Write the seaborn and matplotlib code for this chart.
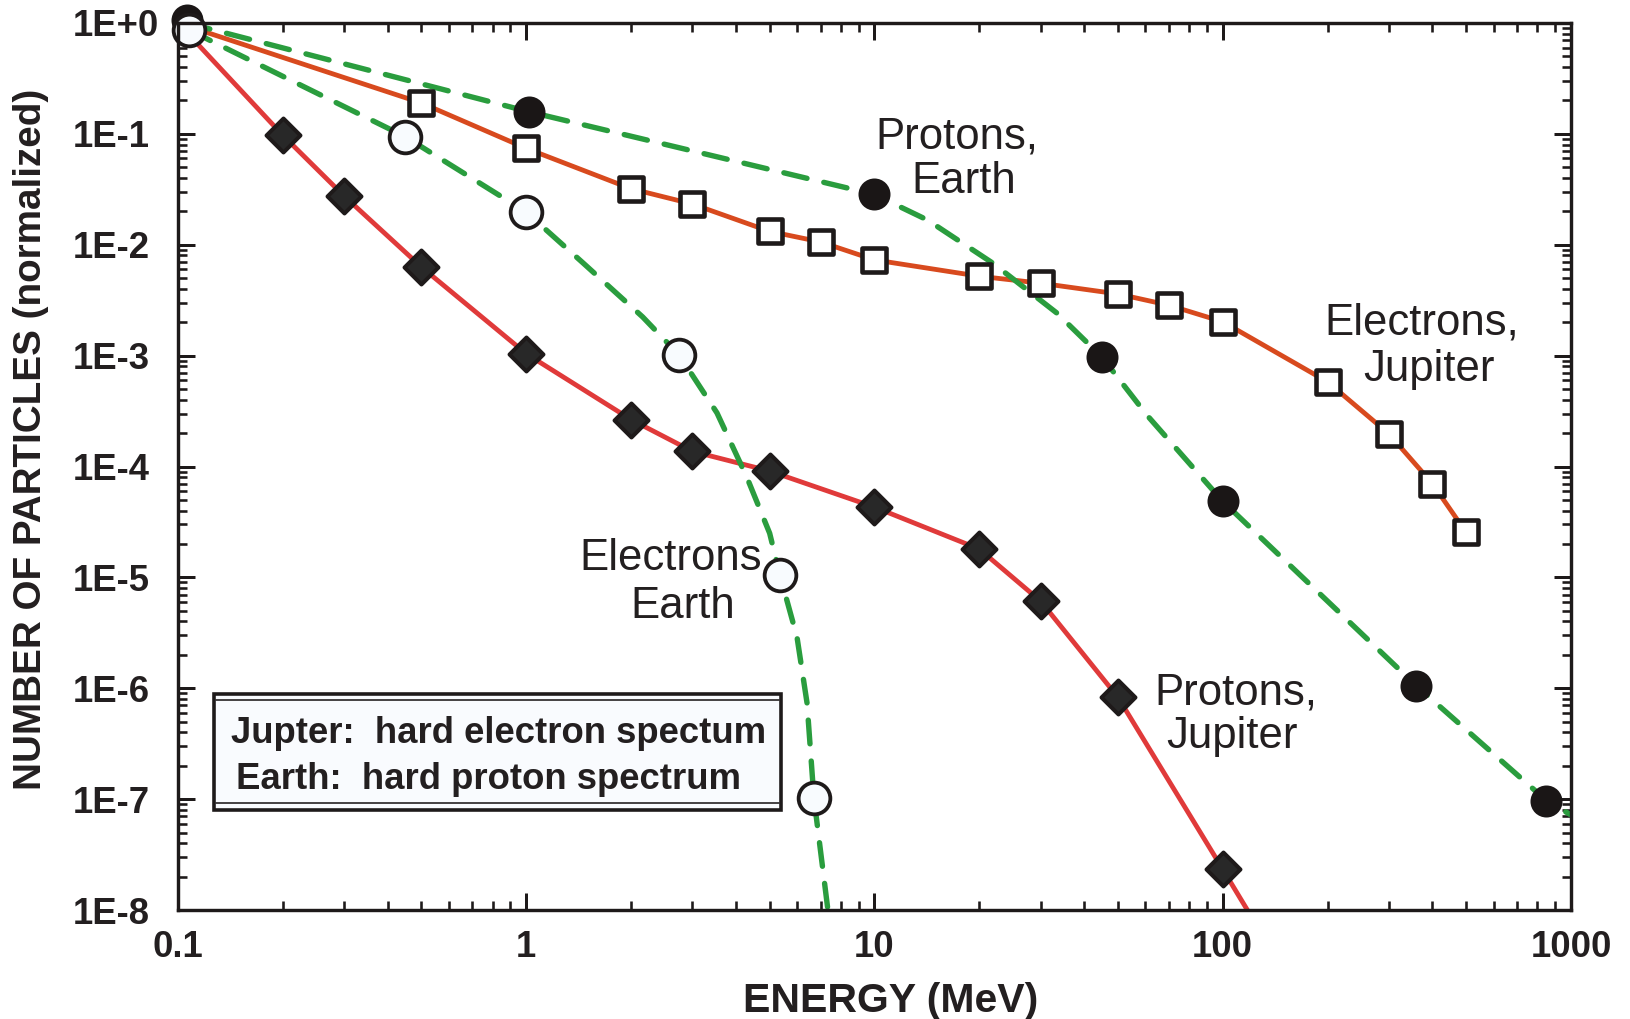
import matplotlib
matplotlib.use("Agg")
import matplotlib.pyplot as plt
import numpy as np
import pandas as pd
import seaborn as sns
from matplotlib.ticker import LogLocator, NullFormatter
from matplotlib.patches import Rectangle
from matplotlib.lines import Line2D

# ---------------- data ----------------
x_tick_values = [0.1, 1, 10, 100, 1000]
x_tick_labels = ["0.1", "1", "10", "100", "1000"]
y_tick_values = [1e0, 1e-1, 1e-2, 1e-3, 1e-4, 1e-5, 1e-6, 1e-7, 1e-8]
y_tick_labels = ["1E+0", "1E-1", "1E-2", "1E-3", "1E-4", "1E-5", "1E-6", "1E-7", "1E-8"]

# Protons, Jupiter (filled diamonds, red solid line)
pj_energy = [0.2, 0.3, 0.5, 1, 2, 3, 5, 10, 20, 30, 50, 100]
pj_flux = [9.7e-2, 2.75e-2, 6.3e-3, 1.04e-3, 2.65e-4, 1.37e-4, 9.1e-5, 4.3e-5, 1.8e-5, 6.1e-6, 8.3e-7, 2.33e-8]
pj_line_energy = [0.1, 0.2, 0.3, 0.5, 1, 2, 3, 5, 10, 20, 30, 50, 100, 125]
pj_line_flux = [1.0, 9.7e-2, 2.75e-2, 6.3e-3, 1.04e-3, 2.65e-4, 1.37e-4, 9.1e-5, 4.3e-5, 1.8e-5, 6.1e-6, 8.3e-7, 2.33e-8, 7.3e-9]

# Electrons, Jupiter (open squares, orange solid line)
ej_energy = [0.5, 1, 2, 3, 5, 7, 10, 20, 30, 50, 70, 100, 200, 300, 400, 500]
ej_flux = [0.19, 7.4e-2, 3.2e-2, 2.33e-2, 1.32e-2, 1.06e-2, 7.3e-3, 5.2e-3, 4.5e-3, 3.6e-3, 2.85e-3, 2.02e-3, 5.8e-4, 1.97e-4, 7.0e-5, 2.54e-5]
ej_line_energy = [0.1] + ej_energy
ej_line_flux = [1.0] + ej_flux

# Protons, Earth (filled circles, green dashed line)
pe_energy = [0.106, 1.02, 10, 45, 100, 360, 850]
pe_flux = [1.06, 0.158, 2.84e-2, 9.7e-4, 4.85e-5, 1.05e-6, 9.7e-8]
pe_line_energy = [0.106, 1.02, 10, 14.2, 21.9, 33.4, 45, 60.6, 100, 360, 850, 1000]
pe_line_flux = [1.0, 0.158, 2.84e-2, 1.67e-2, 6.8e-3, 2.42e-3, 9.7e-4, 2.9e-4, 4.85e-5, 1.05e-6, 9.7e-8, 7.2e-8]

# Electrons, Earth (open circles, green dashed line)
ee_energy = [0.1075, 0.45, 1.0, 2.75, 5.35, 6.7]
ee_flux = [0.865, 9.4e-2, 1.97e-2, 1.01e-3, 1.05e-5, 1.02e-7]
ee_line_energy = [0.1075, 0.45, 1.0, 1.456, 2.16, 2.75, 3.53, 4.3, 5.0, 5.35, 5.99, 6.4, 6.7, 7.5]
ee_line_flux = [0.865, 9.4e-2, 1.97e-2, 6.85e-3, 2.23e-3, 1.01e-3, 3.04e-4, 8.0e-5, 2.5e-5, 1.05e-5, 2.9e-6, 7.4e-7, 1.02e-7, 6e-9]

legend_lines = ["Jupter:  hard electron spectum", "Earth:  hard proton spectrum"]

# ---------------- style ----------------
sns.set_style("ticks")
plt.rcParams["font.family"] = ["Liberation Sans", "DejaVu Sans"]
plt.rcParams["mathtext.default"] = "regular"

W, H = 1631, 1019
DPI = 100
fig = plt.figure(figsize=(W / DPI, H / DPI), dpi=DPI)
fig.patch.set_facecolor("white")


def fx(px):
    return px / W


def fy(py):
    return 1 - py / H


def pt(px):
    return px * 72.0 / DPI


INK = "#1e1a1a"
TXT = "#231f20"
RED = "#e03a3a"
ORANGE = "#d84a1e"
GREEN = "#2a9d3e"

L, R, T, B = 178, 1571, 23, 910
ax = fig.add_axes([fx(L), fy(B), fx(R) - fx(L), fy(T) - fy(B)])
ax.set_facecolor("white")
ax.set_xscale("log")
ax.set_yscale("log")
ax.set_xlim(0.1, 1000)
ax.set_ylim(1e-8, 1)

# ---------------- lines ----------------
def draw_line(xs, ys, color, lw, dashed=False, z=2):
    df = pd.DataFrame({"E": xs, "N": ys})
    kw = dict(color=color, linewidth=lw, zorder=z)
    if dashed:
        kw.update(linestyle=(0, (4.4, 3.2)), dash_capstyle="round")
    else:
        kw.update(solid_capstyle="butt")
    sns.lineplot(data=df, x="E", y="N", sort=False, estimator=None, ax=ax, **kw)


draw_line(pj_line_energy, pj_line_flux, RED, pt(4.8), z=2)
draw_line(ej_line_energy, ej_line_flux, ORANGE, pt(4.8), z=2)
draw_line(pe_line_energy, pe_line_flux, GREEN, pt(5.4), dashed=True, z=3)
draw_line(ee_line_energy, ee_line_flux, GREEN, pt(5.4), dashed=True, z=3)

# ---------------- markers ----------------
sns.scatterplot(x=pe_energy, y=pe_flux, marker="o", s=pt(29.5) ** 2, color="#1a1616",
                edgecolor="#1a1616", linewidth=pt(2.5), ax=ax, zorder=6, clip_on=False)
sns.scatterplot(x=ee_energy, y=ee_flux, marker="o", s=pt(31.7) ** 2, color="#f8fbfe",
                edgecolor=INK, linewidth=pt(3.8), ax=ax, zorder=7, clip_on=False)
sns.scatterplot(x=ej_energy, y=ej_flux, marker="s", s=pt(24.5) ** 2, color="white",
                edgecolor=INK, linewidth=pt(4.6), ax=ax, zorder=6, clip_on=False)
sns.scatterplot(x=pj_energy, y=pj_flux, marker="D", s=pt(24.0) ** 2, color="#282828",
                edgecolor=INK, linewidth=pt(4.0), ax=ax, zorder=6, clip_on=False)

# ---------------- axes / ticks ----------------
for sp in ax.spines.values():
    sp.set_visible(True)
    sp.set_linewidth(pt(3.4))
    sp.set_color(INK)
    sp.set_zorder(8)

ax.set_xticks(x_tick_values)
ax.set_xticklabels(x_tick_labels)
ax.set_yticks(y_tick_values)
ax.set_yticklabels(y_tick_labels)
ax.xaxis.set_minor_locator(LogLocator(base=10, subs=np.arange(2, 10), numticks=20))
ax.yaxis.set_minor_locator(LogLocator(base=10, subs=np.arange(2, 10), numticks=20))
ax.xaxis.set_minor_formatter(NullFormatter())
ax.yaxis.set_minor_formatter(NullFormatter())
ax.set_xlim(0.1, 1000)
ax.set_ylim(1e-8, 1)

ax.tick_params(which="major", direction="in", top=True, right=True, length=pt(17),
               width=pt(3.0), color=INK, labelsize=26.3, labelcolor=TXT)
ax.tick_params(which="minor", direction="in", top=True, right=True, length=pt(9),
               width=pt(2.6), color=INK)
ax.tick_params(axis="x", which="major", pad=pt(20))
ax.tick_params(axis="y", which="major", pad=pt(L - 73))
for lab in ax.get_xticklabels():
    lab.set_fontweight("bold")
for lab in ax.get_yticklabels():
    lab.set_fontweight("bold")
    lab.set_horizontalalignment("left")

ax.set_xlabel("")
ax.set_ylabel("")
fig.text(fx(891), fy(1012), "ENERGY (MeV)", fontsize=29.5, fontweight="bold",
         color=TXT, ha="center", va="baseline")
fig.text(fx(31), fy(439), "NUMBER OF PARTICLES (normalized)", fontsize=27.8,
         fontweight="bold", color=TXT, ha="center", va="center", rotation=90)

# ---------------- annotations ----------------
ANN = 31.5
annots = [
    ("Protons,", 957, 148), ("Earth", 964, 193),
    ("Electrons,", 1422, 335), ("Jupiter", 1429, 381),
    ("Electrons", 671, 570), ("Earth", 683, 618),
    ("Protons,", 1236, 705), ("Jupiter", 1232, 748),
]
for s, cx, by in annots:
    fig.text(fx(cx), fy(by), s, fontsize=ANN, color=TXT, ha="center", va="baseline", zorder=4)

# ---------------- legend-like box ----------------
box = Rectangle((fx(214), fy(810)), fx(781) - fx(214), fy(694) - fy(810),
                transform=fig.transFigure, facecolor="#f9fbfe", edgecolor=INK,
                linewidth=pt(3.6), zorder=9)
fig.add_artist(box)
for yy in (700, 803):
    fig.add_artist(Line2D([fx(216), fx(779)], [fy(yy), fy(yy)], transform=fig.transFigure,
                          color=INK, linewidth=pt(1.6), zorder=10))
fig.text(fx(231), fy(743), legend_lines[0], fontsize=26.3, fontweight="bold", color=TXT,
         ha="left", va="baseline", zorder=11)
fig.text(fx(236), fy(789), legend_lines[1], fontsize=26.3, fontweight="bold", color=TXT,
         ha="left", va="baseline", zorder=11)

fig.savefig("out.png", dpi=DPI, facecolor="white")
